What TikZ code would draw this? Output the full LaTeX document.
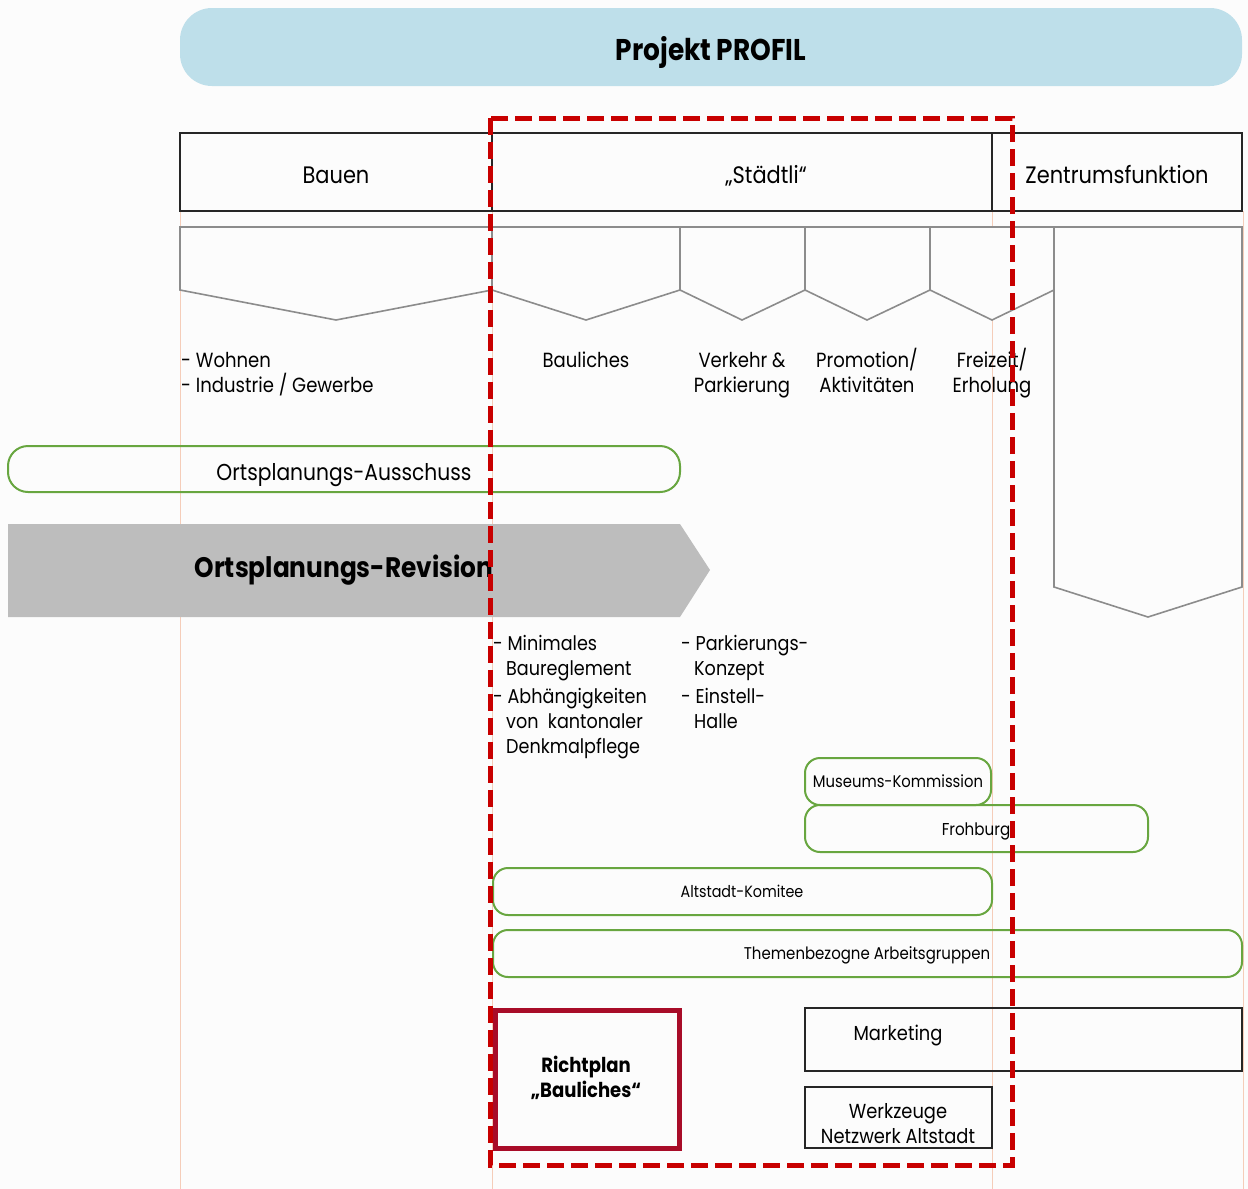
\documentclass[tikz,border=0pt]{standalone}
\usepackage{fontspec}
\setmainfont{Poppins}[FakeStretch=0.88]
\newcommand\fsz[1]{\fontsize{#1}{#1}\selectfont}
\definecolor{bannerblue}{RGB}{190,223,234}
\definecolor{grn}{RGB}{104,166,64}
\definecolor{arrgray}{RGB}{189,189,189}
\definecolor{pentgray}{RGB}{140,140,140}
\definecolor{dred}{RGB}{200,0,0}
\definecolor{rpred}{RGB}{168,12,40}
\definecolor{guide}{RGB}{245,205,185}
\definecolor{bgc}{RGB}{252,252,252}
\begin{document}
\begin{tikzpicture}[x=1pt,y=-1pt,
  txt/.style={inner sep=0pt, anchor=base, font=\fsz{20.5}},
  ltxt/.style={inner sep=0pt, anchor=base west, font=\fsz{20.5}},
  hbox/.style={draw=black!85, line width=2pt},
  pent/.style={draw=pentgray, line width=1.6pt, fill=bgc},
  gbox/.style={draw=grn, line width=2pt, rounded corners=15pt},
  guideline/.style={draw=guide, line width=1pt}]
\fill[bgc] (0,0) rectangle (1248,1189);
\useasboundingbox (0,0) rectangle (1248,1189);
% guide lines
\draw[guideline] (180,211) -- (180,1189);
\draw[guideline] (492,211) -- (492,1189);
\draw[guideline] (992,211) -- (992,1189);
\draw[guideline] (1243,211) -- (1243,1189);
% banner
\fill[bannerblue, rounded corners=32pt] (180,8) rectangle (1242,86);
\node[txt, font=\bfseries\fsz{30}] (projt) at (711,60) {Projekt PROFIL};
% header boxes
\draw[hbox] (180,133) rectangle (492,211);
\draw[hbox] (492,133) rectangle (992,211);
\draw[hbox] (992,133) rectangle (1242,211);
\node[txt, font=\fsz{23.8}] (bauen) at (336,183) {Bauen};
\node[txt, font=\fsz{23.8}] (staedtli) at (766,183) {„Städtli“};
\node[txt, font=\fsz{23.8}] (zentrum) at (1117,183) {Zentrumsfunktion};
% pentagons
\draw[pent] (180,227) -- (492,227) -- (492,290) -- (336,320) -- (180,290) -- cycle;
\draw[pent] (492,227) -- (680,227) -- (680,290) -- (586,320) -- (492,290) -- cycle;
\draw[pent] (680,227) -- (805,227) -- (805,290) -- (742,320) -- (680,290) -- cycle;
\draw[pent] (805,227) -- (930,227) -- (930,290) -- (867,320) -- (805,290) -- cycle;
\draw[pent] (930,227) -- (1054,227) -- (1054,290) -- (992,320) -- (930,290) -- cycle;
\draw[pent] (1054,227) -- (1242,227) -- (1242,587) -- (1148,617) -- (1054,587) -- cycle;
% labels under pentagons
\node[ltxt] (wohnen) at (181,367) {- Wohnen};
\node[ltxt] (industrie) at (181,392) {- Industrie / Gewerbe};
\node[txt] (bauliches) at (586,367) {Bauliches};
\node[txt] (verkehr1) at (742,367) {Verkehr \&};
\node[txt] (verkehr2) at (742,392) {Parkierung};
\node[txt] (promo1) at (867,367) {Promotion/};
\node[txt] (promo2) at (867,392) {Aktivitäten};
\node[txt] (frei1) at (992,367) {Freizeit/};
\node[txt] (frei2) at (992,392) {Erholung};
% Ortsplanungs-Ausschuss
\draw[gbox, rounded corners=20pt] (8,446) rectangle (680,492);
\node[txt, font=\fsz{23}] (opa) at (344,480) {Ortsplanungs-Ausschuss};
% Ortsplanungs-Revision arrow
\fill[arrgray] (8,524) -- (680,524) -- (710,570) -- (680,617) -- (8,617) -- cycle;
\node[txt, font=\bfseries\fsz{28.2}] (opr) at (344,577) {Ortsplanungs-Revision};
% bullet texts
\node[ltxt, font=\fsz{20}] (b1) at (493,650) {- Minimales};
\node[ltxt, font=\fsz{20}] (b1b) at (506,675) {Baureglement};
\node[ltxt, font=\fsz{20}] (b2) at (493,703) {- Abhängigkeiten};
\node[ltxt, font=\fsz{20}] (b2b) at (506,728) {von\ \ kantonaler};
\node[ltxt, font=\fsz{20}] (b2c) at (506,753) {Denkmalpflege};
\node[ltxt, font=\fsz{20}] (c1) at (681,650) {- Parkierungs-};
\node[ltxt, font=\fsz{20}] (c1b) at (694,675) {Konzept};
\node[ltxt, font=\fsz{20}] (c2) at (681,703) {- Einstell-};
\node[ltxt, font=\fsz{20}] (c2b) at (694,728) {Halle};
% green boxes
\draw[gbox] (805,758) rectangle (991,805);
\node[txt, font=\fsz{16.8}] (museum) at (898,787) {Museums-Kommission};
\draw[gbox] (805,805) rectangle (1148,852);
\node[txt, font=\fsz{17.2}] (frohburg) at (976,835) {Frohburg};
\draw[gbox] (493,868) rectangle (992,915);
\node[txt, font=\fsz{16.3}] (altstadt) at (742,897) {Altstadt-Komitee};
\draw[gbox] (493,930) rectangle (1242,977);
\node[txt, font=\fsz{17}] (themen) at (867,959) {Themenbezogne Arbeitsgruppen};
% bottom boxes
\draw[rpred, line width=5pt] (495,1010) rectangle (679,1148);
\node[txt, font=\bfseries\fsz{20.5}] (richt1) at (586,1072) {Richtplan};
\node[txt, font=\bfseries\fsz{20.5}] (richt2) at (586,1097) {„Bauliches“};
\draw[hbox] (805,1008) rectangle (1242,1071);
\node[txt, font=\fsz{20.3}] (marketing) at (898,1040) {Marketing};
\draw[hbox] (805,1087) rectangle (992,1148);
\node[txt, font=\fsz{20.3}] (werk1) at (898,1118) {Werkzeuge};
\node[txt, font=\fsz{20.3}] (werk2) at (898,1143) {Netzwerk Altstadt};
% dashed red frame
\draw[dred, line width=5pt, dash pattern=on 17pt off 7pt] (490,118) rectangle (1012,1165);
\end{tikzpicture}
\end{document}
